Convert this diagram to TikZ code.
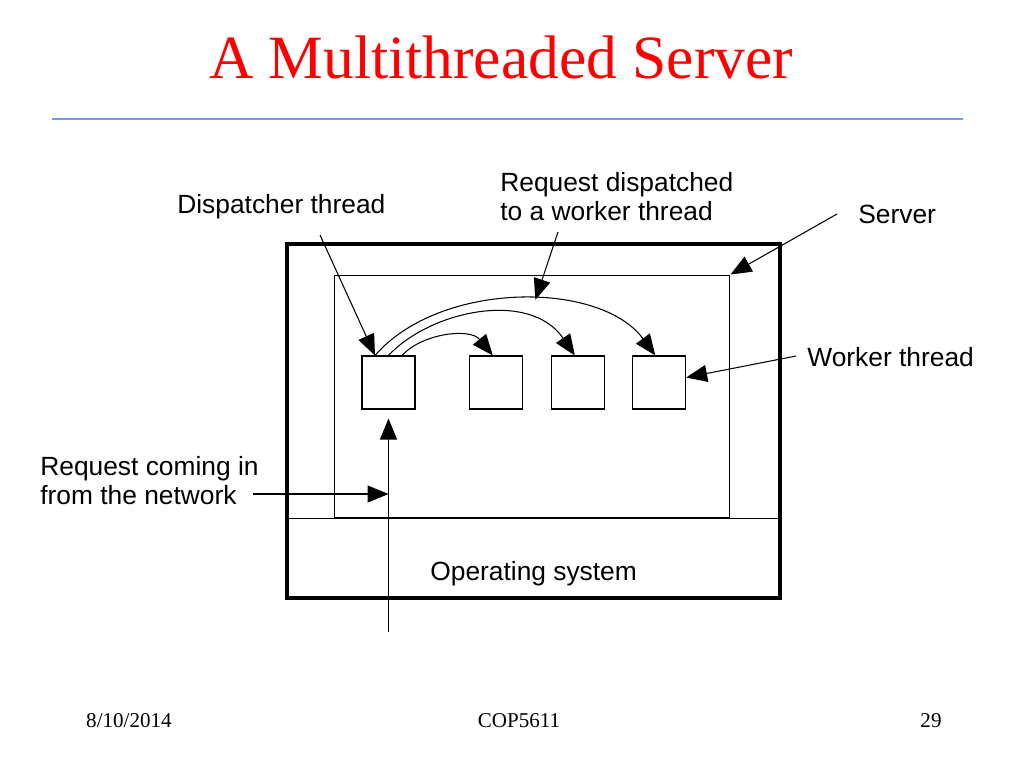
\documentclass[tikz,border=0pt]{standalone}
\usepackage{fontspec}
\setmainfont{Liberation Serif}
\newfontfamily\labelfont{Liberation Sans}
\usetikzlibrary{arrows.meta, positioning, calc}
\definecolor{titlered}{HTML}{FF0000}
\definecolor{rulecolor}{HTML}{6E9BEB}

\begin{document}
\begin{tikzpicture}[
        x=0.02cm, y=-0.02cm,
        label_text/.style={
            anchor=base west,
            inner sep=0pt,
            align=left,
            font=\labelfont\fontsize{15}{16.5}\selectfont
        },
        thread_box/.style={
            rectangle,
            draw,
            line width=0.6pt,
            minimum width=1.06cm,
            minimum height=1.06cm,
            inner sep=0pt
        },
        pointer/.style={
            -{Triangle[length=0.42cm, width=0.34cm]},
            line width=0.6pt
        },
        footer_text/.style={
            anchor=base,
            inner sep=0pt,
            font=\fontsize{12}{14}\selectfont
        }
    ]
    \useasboundingbox (0,0) rectangle (1024,768);

    % Title
    \node[anchor=base, inner sep=0pt, text=titlered, font=\fontsize{35}{40}\selectfont] (title) at (501,78) {A Multithreaded Server};
    \draw[rulecolor, line width=1pt] (52,119) -- (963,119);

    % Machine, server process and OS
    \node[rectangle, draw, line width=1.8pt, minimum width=9.86cm, minimum height=7.08cm] (machine) at (533.5,421) {};
    \node[rectangle, draw, line width=0.6pt, minimum width=7.92cm, minimum height=4.86cm] (server) at (532,396.5) {};
    \draw[line width=0.6pt] (machine.west |- server.south) -- (machine.east |- server.south);
    \node[label_text] (os) at (430,580) {Operating system};

    % Threads
    \node[thread_box] (disp) at (388.5,382.5) {};
    \node[thread_box, right=1.06cm of disp] (w1) {};
    \node[thread_box, right=0.56cm of w1] (w2) {};
    \node[thread_box, right=0.55cm of w2] (w3) {};

    % Dispatch curves
    \coordinate (d1) at ($(disp.north west)!0.25!(disp.north east)$);
    \coordinate (d2) at ($(disp.north west)!0.5!(disp.north east)$);
    \coordinate (d3) at ($(disp.north west)!0.75!(disp.north east)$);
    \draw[pointer] (d1) .. controls +(65,-75) and +(-55,-75) .. ($(w3.north west)!0.43!(w3.north east)$) coordinate[pos=0.55] (peak);
    \draw[pointer] (d2) .. controls +(42,-45) and +(-45,-66) .. ($(w2.north west)!0.45!(w2.north east)$);
    \draw[pointer] (d3) .. controls +(20,-22) and +(-23,-28) .. ($(w1.north west)!0.45!(w1.north east)$);

    % Labels
    \node[label_text] (displabel) at (177,213) {Dispatcher thread};
    \node[label_text] (reqlabel) at (500,220) {Request dispatched\\to a worker thread};
    \node[label_text] (serverlabel) at (858,223) {Server};
    \node[label_text] (workerlabel) at (807,366) {Worker thread};
    \node[label_text] (netlabel) at (40,504) {Request coming in\\from the network};

    % Leader arrows
    \coordinate (dispfrom) at (320,235);
    \coordinate (reqfrom) at (558,232);
    \coordinate (serverfrom) at (837,214);
    \coordinate (workerfrom) at (796,356);
    \coordinate (netfrom) at (253,494);
    \coordinate (netsrc) at (388.5,632);
    \draw[pointer] (dispfrom) -- (d1);
    \draw[pointer] (reqfrom) -- (peak);
    \draw[pointer] (serverfrom) -- (server.north east);
    \draw[pointer] (workerfrom) -- ([yshift=0.1cm]w3.east);
    \draw[pointer] (netsrc) -- ([yshift=-0.18cm]disp.south);
    \draw[pointer] (netfrom) -- (disp.south |- netfrom);

    % Footer
    \node[footer_text] (date) at (129,727) {8/10/2014};
    \node[footer_text] (course) at (519,727) {COP5611};
    \node[footer_text] (page) at (931,727) {29};

\end{tikzpicture}
\end{document}
